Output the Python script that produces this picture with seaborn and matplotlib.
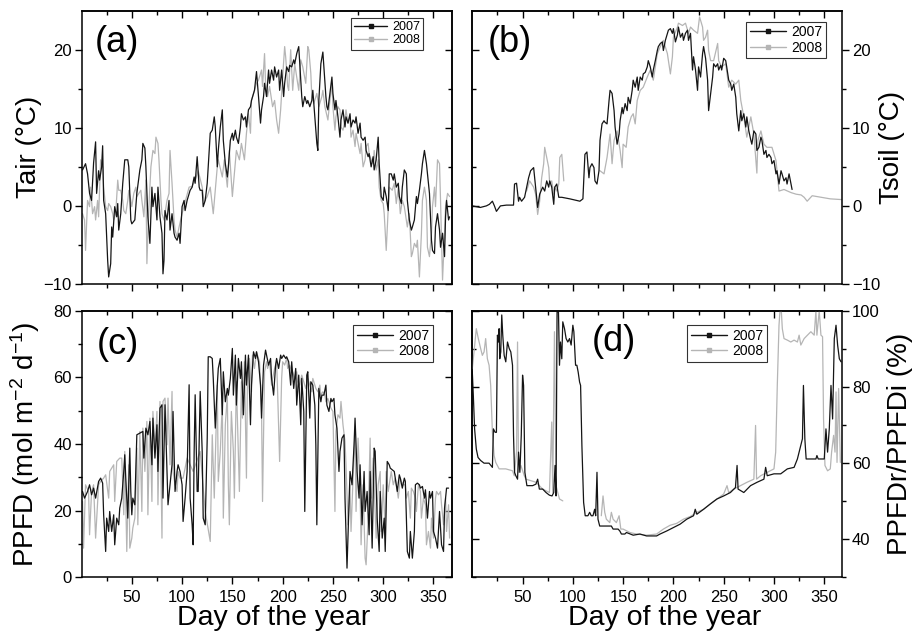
import numpy as np
import pandas as pd
import matplotlib
matplotlib.use("Agg")
import matplotlib.pyplot as plt
import seaborn as sns
from matplotlib.lines import Line2D
from matplotlib.ticker import FixedLocator

# ---------------- data (day, value) ----------------
tair_2007 = [(1,4.6),(4,5.4),(6,4.1),(8,1.6),(10,0.7),(12,5.5),(14,8.2),(15,1.6),(17,4.5),(18,3.3),(20,5.0),(21,7.7),(22,0.7),(24,-1),(26,-7),(27,-9.1),(29,-7.4),(30,-2.7),(31,-4),(33,-0.1),(35,-1.4),(36,0.3),(37,-3.1),(39,-1),(41,2.9),(43,5.9),(46,5.9),(47,5),(49,-1.8),(50,-2.3),(53,-1.8),(55,1.6),(58,4.6),(60,5.9),(61,8),(63,7.4),(64,5),(66,-1.4),(68,-4.8),(70,2.4),(71,-0.1),(73,1.6),(75,-1.8),(76,2.4),(78,-1.4),(80,-3.5),(81,-8.7),(82,-7),(83,-0.6),(85,-1.8),(87,0.7),(88,-3.1),(90,-1),(92,-3.5),(93,-4),(95,-4.4),(97,-3.5),(98,-4.8),(100,-0.1),(102,0.7),(103,-0.6),(105,0.7),(107,1.6),(108,2),(110,2.4),(112,3.7),(113,2.9),(115,6.3),(117,2.4),(118,2),(120,2),(121,-0.1),(123,0.7),(125,2.9),(126,5),(128,9.3),(130,9.7),(132,11.4),(133,10.1),(135,5),(136,7.1),(138,10.1),(140,12.3),(141,8.4),(143,5.4),(145,3.7),(146,5),(148,8.4),(150,9.3),(151,8.4),(153,9.7),(154,8.8),(156,8),(158,10.1),(159,11.8),(161,11),(163,11.4),(164,10.1),(166,12.3),(168,12.7),(169,13.5),(172,14.8),(174,17.2),(176,14),(178,10.6),(179,12.3),(181,14),(182,15.7),(184,14),(186,17.4),(187,15.7),(189,17.4),(191,16.1),(192,17.8),(194,16.5),(196,17.4),(197,14.8),(199,17.4),(201,14),(202,15.7),(204,17.8),(206,17.2),(207,18),(209,17.8),(211,18.7),(212,18.2),(214,19.5),(216,20.4),(217,18.2),(219,14),(220,12.7),(222,14),(224,13.1),(225,13.5),(227,12.7),(229,13.5),(230,14.8),(232,11.4),(234,8),(235,7.1),(236,13.5),(238,18.2),(240,19.7),(241,17.8),(243,14),(244,12.7),(245,12.3),(247,14.4),(249,16.5),(250,14.4),(252,12.3),(253,13.5),(255,11.4),(257,8.8),(258,11),(260,12.3),(262,10.1),(263,11.4),(265,10.6),(267,11.8),(268,10.1),(270,11),(272,10.6),(273,11.4),(275,9.3),(277,10.6),(278,8.8),(280,8.4),(282,8.8),(283,7.1),(285,6.3),(286,6.7),(288,5),(290,6.3),(291,4.6),(293,5.9),(295,8.8),(296,5.4),(298,1.2),(300,0.7),(301,2.4),(303,1.2),(305,-0.6),(306,4.1),(308,4.1),(310,3.3),(311,4.1),(313,2.4),(315,2.9),(316,1.2),(318,0.3),(319,2.4),(321,4.6),(323,4.1),(324,0.7),(326,-1.8),(328,-3.1),(329,-2.7),(331,-1.8),(333,1.2),(334,0.3),(336,2),(338,4.1),(339,5.4),(341,7.1),(343,5.4),(344,4.1),(346,1.6),(348,-4.4),(349,-5.7),(351,-6.1),(352,-2.7),(354,-1),(356,-3.1),(357,-5.3),(359,-3.5),(361,-6.5),(362,-1.4),(363,0.7),(365,-1.8),(366,-1.4)]

tair_2008 = [(1,-1),(3,-1.8),(4,-5.7),(6,0.7),(8,-0.1),(9,2.4),(11,-1),(13,-0.1),(14,-1.8),(16,0.7),(17,-1.4),(19,5.9),(21,5),(22,2.4),(24,-0.1),(26,-0.6),(27,0.3),(29,-0.1),(31,-1),(32,-1.8),(34,-1),(36,3.3),(37,2),(39,2),(41,0.7),(42,-0.6),(44,-1),(46,0.7),(47,2),(49,0.7),(50,-0.1),(52,1.6),(54,2.4),(55,1.2),(57,1.6),(59,2),(60,0.7),(62,-1.4),(64,3.3),(65,-7.4),(67,-0.1),(69,5),(71,7.1),(73,6.7),(74,8.8),(76,8),(77,5.9),(79,0.7),(80,-1),(82,-1.8),(84,-0.1),(85,0.7),(87,1.6),(88,7.1),(90,2.9),(92,-1.8),(93,-3.1),(95,-4),(97,-2.7),(100,-1),(103,0.5),(107,2.4),(110,2.5),(113,3.3),(116,4.5),(120,2.4),(122,0.5),(125,1.2),(128,2.4),(131,-1),(135,5),(136,5.9),(140,3.7),(142,5.9),(145,2.4),(147,7.1),(150,1.2),(152,4.1),(154,7.1),(157,5.9),(159,8),(162,5.9),(164,9.3),(166,11.8),(168,9.3),(169,13.5),(172,14.8),(174,15.7),(176,16.1),(179,17.4),(180,15.3),(182,19.5),(183,15.7),(185,14),(187,15.3),(190,12.7),(192,13.5),(194,11),(196,9.3),(198,12.3),(200,16.5),(202,20.4),(203,19.1),(205,15.3),(206,14.8),(208,20),(210,14.8),(212,18.2),(214,16.5),(216,14.8),(218,18.7),(220,17.8),(223,15.7),(225,20.4),(226,20),(228,17),(229,14),(231,13.1),(234,14.4),(236,12.7),(239,14),(240,14.8),(242,12.7),(245,11),(247,13.5),(249,15.7),(250,12.7),(252,9.7),(253,11.4),(255,12.7),(257,12.3),(258,10.1),(260,9.7),(262,11),(263,12.3),(265,10.6),(267,11.4),(268,8.8),(270,9.7),(272,7.6),(273,9.3),(275,8),(277,6.7),(278,8),(280,5),(282,5.9),(283,7.6),(285,8),(286,6.7),(288,5.9),(290,5.4),(291,7.1),(293,4.6),(295,5.9),(296,2.4),(298,0.7),(300,0.3),(301,-1),(303,-5.7),(305,-0.1),(306,2.4),(309,2),(311,2.9),(313,0.3),(315,2.4),(317,-1),(319,0.7),(321,-0.1),(324,-2.7),(326,-1),(328,-6.5),(329,-6.1),(331,-4.8),(333,-5.3),(334,-4.4),(336,-9.1),(338,-3.5),(339,0.7),(341,2.4),(343,0.7),(344,-5.3),(346,-6.5),(348,-3.5),(349,-0.1),(351,2.4),(352,-0.1),(354,5.9),(356,5.4),(357,0.7),(359,-9.5),(361,-3.5),(362,-0.1),(364,1.6),(366,1.2)]

tsoil_2007 = [(0,0),(8,-0.2),(11,-0.1),(14,0),(17,0.2),(20,0.6),(22,0),(24,-0.7),(28,0),(34,0.1),(41,0.1),(42,2.8),(44,2.9),(46,0.6),(47,1.1),(49,0.6),(52,1.1),(56,3.6),(58,4.5),(61,4.9),(63,2.4),(65,-0.2),(67,1.5),(70,2.4),(72,1.9),(74,3.2),(76,2.4),(77,3.2),(79,2.4),(81,0.2),(82,2.4),(84,2.8),(86,1.1),(89,1.1),(97,0.9),(107,0.6),(110,0.9),(112,6.6),(114,6.9),(116,3.6),(117,4.9),(119,5.4),(121,4.9),(122,3.2),(124,2.8),(126,4.5),(127,8.4),(129,10.5),(131,10.9),(132,10.7),(134,10.5),(136,13.5),(137,14.8),(139,14.4),(141,12.2),(142,10.1),(144,7.9),(146,9.2),(147,10.9),(149,12.6),(150,11.8),(152,13.1),(154,12.2),(155,13.9),(157,13.1),(159,14.8),(160,16.1),(162,15.2),(164,16.5),(165,14.8),(167,16.5),(169,16.1),(170,16.9),(172,17.1),(174,17.8),(175,18.6),(177,17.8),(179,16.5),(180,17.4),(182,18.6),(184,19.9),(185,20.4),(187,20.8),(189,21),(190,19.9),(192,21.2),(194,22.1),(195,22.5),(197,22.7),(199,22.1),(200,22.7),(202,21),(204,21.9),(205,22.9),(207,21.6),(209,22.1),(210,21.2),(212,22.1),(214,22.5),(215,21.2),(217,22.1),(219,17.4),(220,19.1),(222,17.4),(224,14.8),(225,17.8),(227,16.5),(229,19.5),(230,20.4),(232,18.9),(234,16.1),(235,12.2),(237,14.4),(239,16.5),(240,18.2),(242,17.8),(244,18.2),(245,17.4),(247,18),(248,17.4),(250,18.9),(252,18.6),(253,17.8),(255,16.1),(257,15.6),(258,14.8),(260,15.6),(262,13.9),(263,11.8),(265,9.6),(267,12.2),(268,10.9),(270,11.8),(272,10.1),(273,11.4),(275,9.6),(277,8.4),(278,7.9),(280,9.6),(282,9.2),(283,7.1),(285,7.5),(287,8.8),(288,8.4),(290,6.6),(292,7.1),(293,6.2),(295,6.6),(297,6.2),(298,5.4),(300,5.8),(302,4.1),(303,4.5),(305,2.8),(307,4.5),(308,4.1),(310,3.2),(312,3.6),(313,2.8),(315,4.1),(317,2.8),(318,2.1)]

tsoil_2008 = [(54,1.9),(57,3.2),(61,2.4),(63,1.5),(65,-1.1),(67,0.6),(69,3.6),(71,5.4),(72,7.5),(74,6.2),(76,4.9),(77,2.8),(79,3.2),(81,1.5),(82,2.4),(84,1.9),(86,2.8),(87,6.2),(89,6.6),(91,3.2),
              None,
              (127,4.5),(131,4.1),(134,6.2),(137,9.2),(139,5.4),(141,8.4),(144,9.6),(147,7.1),(149,4.9),(150,7.9),(153,7.5),(155,10.1),(158,11.4),(160,11.8),(162,10.5),(164,13.5),(167,14.8),(170,15.2),(174,16.5),(177,17.4),(180,16.1),(184,19.5),(187,20.4),(190,21.2),(194,19.5),(197,16.9),(199,19.1),(200,21.6),(204,22.9),(205,23.4),(209,23.1),(212,23.4),(215,22.1),(217,22.9),(220,22.5),(224,22.1),(226,24.2),(229,22.9),(230,21.2),(232,21.6),(234,22.5),(235,19.9),(237,18.6),(240,18.6),(244,20.8),(245,18.6),(248,17.8),(252,18.2),(255,15.2),(258,16.1),(262,15.6),(265,16.1),(267,13.5),(270,11.4),(273,8.8),(277,11.4),(280,9.2),(283,4.2),(284,8.4),(287,9.6),(290,7.9),(293,7.5),(298,7.5),(302,5.8),(305,1.9),(310,2.1),(317,1.7),(322,1.5),(327,1.4),(330,1.1),(333,0.6),(338,1.3),(347,1.1),(356,0.9),(368,0.8)]

ppfd_2007 = [(1,25.8),(3,23.8),(6,25.8),(8,27.8),(10,24.8),(12,26.8),(14,23.8),(17,28.8),(19,29.8),(21,28.3),(22,18.8),(24,7.8),(25,17.8),(27,13.8),(28,19.8),(30,13.8),(32,18.8),(33,9.8),(35,17.8),(37,15.8),(38,20.8),(40,23.8),(42,31.8),(43,36.8),(44,29.8),(46,17.8),(48,38.8),(49,25.8),(50,18.8),(51,23.8),(53,21.8),(55,42.8),(58,43.3),(61,43.8),(62,35.8),(64,44.8),(66,42.8),(68,46.8),(70,33.8),(71,47.8),(73,35.8),(75,45.8),(76,31.8),(78,50.8),(80,51.8),(81,23.8),(83,51.8),(85,31.8),(86,21.8),(88,27.8),(90,33.8),(91,49.8),(93,25.8),(95,31.8),(96,33.8),(98,31.8),(100,27.8),(101,16.8),(103,23.8),(105,31.8),(106,44.8),(107,57.8),(108,23.8),(110,15.8),(111,9.8),(112,37.8),(113,54.8),(115,25.8),(116,25.8),(118,55.8),(120,37.8),(121,17.8),(123,15.8),(125,41.8),(126,66.2),(128,66.2),(130,65.7),(131,59.7),(133,44.8),(135,57.7),(136,62.7),(138,65.7),(140,48.8),(141,61.7),(143,52.7),(145,56.7),(146,54.7),(148,59.7),(150,68.7),(151,54.7),(153,66.7),(154,51.7),(156,65.7),(158,59.7),(159,64.7),(161,48.8),(163,66.7),(164,57.7),(166,66.7),(168,45.8),(169,57.7),(171,67.7),(173,65.7),(174,67.7),(176,64.7),(178,57.7),(179,47.8),(181,63.7),(183,68.2),(184,66.7),(186,63.7),(188,65.7),(189,59.7),(191,54.7),(193,63.7),(194,65.7),(196,62.7),(198,66.7),(199,65.7),(201,66.7),(203,65.7),(204,66.2),(206,64.7),(208,57.7),(209,64.7),(211,56.7),(213,62.7),(214,51.7),(216,60.7),(218,45.8),(219,59.7),(221,49.8),(222,19.8),(224,60.7),(225,61.7),(227,47.8),(228,58.7),(230,57.7),(232,51.7),(233,39.8),(234,15.8),(236,56.7),(238,52.7),(239,54.7),(241,54.7),(243,57.7),(244,51.7),(246,49.8),(248,53.7),(249,52.7),(251,53.7),(252,48.8),(254,44.8),(256,31.8),(257,37.8),(259,41.8),(261,42.8),(262,23.8),(264,2.8),(266,22.8),(267,31.8),(269,27.8),(271,39.8),(272,47.8),(274,31.8),(276,23.8),(277,33.8),(279,15.8),(281,31.8),(282,19.8),(284,25.8),(286,12.8),(287,31.8),(289,8.8),(291,38.8),(292,37.8),(294,17.8),(296,7.8),(297,25.8),(299,11.8),(301,17.8),(302,7.8),(304,34.8),(306,33.8),(307,32.8),(309,32.3),(311,31.8),(312,29.8),(314,25.8),(316,30.8),(317,29.8),(319,26.8),(321,29.8),(322,28.8),(324,7.8),(326,5.8),(327,13.8),(329,5.8),(331,13.8),(332,27.8),(334,28.3),(336,27.8),(337,26.8),(339,27.3),(341,23.8),(342,26.3),(344,17.8),(346,25.8),(347,23.8),(349,25.8),(350,13.8),(352,11.8),(354,8.8),(356,19.8),(358,9.8),(360,7.8),(361,20.8),(363,26.8),(365,26.8)]

ppfd_2008 = [(1,22.8),(2,8.8),(4,27.8),(7,25.8),(8,12.8),(10,25.8),(12,27.8),(14,11.8),(17,27.8),(19,28.8),(22,29.8),(24,30.8),(27,23.8),(28,31.8),(32,33.8),(33,22.8),(35,34.8),(38,35.8),(40,35.8),(42,18.8),(43,37.8),(45,7.8),(47,33.8),(48,8.8),(50,11.8),(51,14.8),(53,17.8),(55,38.8),(56,15.8),(58,43.8),(60,19.8),(61,44.8),(63,31.8),(65,46.8),(66,18.8),(68,47.8),(70,22.8),(71,49.8),(73,37.8),(75,49.8),(76,21.8),(78,52.8),(80,11.8),(81,52.8),(83,53.8),(85,39.8),(86,53.8),(88,33.8),(90,55.8),(91,31.8),(93,27.8),(95,25.8),(96,31.8),(98,29.8),(101,29.8),(105,35.8),(111,31.8),(118,37.8),(123,19.8),(128,10.8),(130,42.8),(132,23.8),(135,57.7),(136,28.8),(138,37.8),(140,52.7),(141,17.8),(143,45.8),(145,54.7),(146,27.8),(147,15.8),(149,49.8),(151,37.8),(152,23.8),(154,58.7),(155,47.8),(157,25.8),(159,58.7),(160,47.8),(162,64.7),(164,29.8),(165,59.7),(167,65.7),(169,55.7),(170,66.7),(172,62.7),(174,67.7),(175,66.7),(177,64.7),(179,50.8),(180,22.8),(182,61.7),(184,64.7),(185,62.7),(187,64.7),(189,57.7),(190,59.7),(192,62.7),(194,64.7),(195,55.7),(197,34.8),(199,59.7),(200,64.7),(202,63.7),(204,65.7),(205,62.7),(207,63.7),(209,61.7),(210,61.7),(212,59.7),(214,61.7),(215,58.7),(217,57.7),(219,60.7),(220,59.7),(222,57.7),(223,56.7),(225,59.7),(227,57.7),(229,55.7),(230,59.7),(232,57.7),(233,56.7),(235,55.7),(237,57.7),(238,54.7),(240,55.7),(242,54.7),(243,52.7),(245,53.7),(247,51.7),(248,50.8),(250,49.8),(252,19.8),(253,43.8),(255,48.8),(257,47.8),(258,52.8),(260,45.8),(262,40.8),(263,33.8),(265,15.8),(267,27.8),(268,13.8),(270,29.8),(272,43.8),(273,19.8),(275,41.8),(277,25.8),(278,9.8),(280,27.8),(282,5.8),(283,3.8),(285,17.8),(287,41.8),(288,23.8),(290,35.8),(292,19.8),(293,11.8),(295,27.8),(297,31.8),(298,13.8),(300,27.8),(302,13.8),(303,31.8),(305,25.8),(307,29.8),(308,31.8),(310,27.8),(312,29.8),(313,27.8),(315,23.8),(317,29.8),(318,28.8),(320,27.8),(322,27.8),(323,23.8),(325,25.8),(327,17.8),(328,26.8),(330,25.8),(332,23.8),(333,19.8),(335,27.8),(337,25.8),(338,17.8),(340,23.8),(342,21.8),(343,9.8),(345,13.8),(347,8.8),(348,17.8),(350,11.8),(352,23.8),(353,25.8),(355,24.8),(357,25.8),(358,21.8),(360,15.8),(362,23.8),(363,13.8),(365,21.8),(366,11.8)]

ratio_2007 = [(0,84),(1,78),(2.3,69),(4,63.7),(5.7,61.5),(8.3,60.7),(11.7,60),(16.7,60),(20,58.9),(21,69),(22.7,68.1),(24,68.1),(25,93.6),(26,91.8),(26.7,95.3),(27.3,87.4),(28.3,89.2),(29.3,98.9),(30.3,93.6),(31.7,88.3),(33.3,86.6),(35,91.8),(36.7,90.1),(38.3,89.2),(40,85.7),(41,67.3),(42,57.6),(43.3,56.7),(45,55.8),(46,62.9),(47.3,57.6),(48.7,67.3),(50,83.1),(51,80.4),(52.3,57.6),(54.3,54.1),(56.7,54.1),(60,54.1),(63.3,54.5),(65,55.8),(66.7,53.2),(70,53.2),(73.3,52.3),(76.7,51.6),(79.3,51.4),(81,52.3),(82.3,59.4),(83.3,51.4),(84.3,99.7),(85.7,99.7),(86.7,85.7),(87.7,91.8),(89,87.4),(90,97.1),(91.7,95.3),(93.3,92.7),(95,91.8),(96.7,92.7),(98.3,91),(100,96.2),(101,94.5),(102.7,85.7),(104,85.7),(105.3,83.9),(106.7,81.3),(107.7,80.4),(109,64.6),(110.7,49.7),(112.3,46.2),(115,46.2),(116.7,47.1),(118.3,46.2),(120,46.2),(121.7,47.9),(122.7,46.2),(124,57.6),(125,45.3),(126.7,43.5),(133.3,43.5),(138.3,43.5),(140,42.7),(145,42.7),(146.7,42.2),(148.3,41.4),(151.7,41.4),(153.3,41.8),(160,41.1),(166.7,41.4),(173.3,40.9),(183.3,40.9),(186.7,41.4),(193.3,42.2),(200,43.1),(206.7,44),(213.3,45.3),(220,46.2),(221.7,47.9),(223.3,46.6),(230,47.9),(236.7,49.3),(243.3,50.6),(250,51.4),(256.7,52.3),(261.7,53.6),(263.3,59.4),(264.3,53.2),(270,52.3),(276.7,54.1),(283.3,55),(290,55.8),(291.7,58.9),(293.3,56.7),(300,57.2),(306.7,57.2),(313.3,58.5),(320,58.9),(323.3,61.1),(325,62.9),(326.7,64.6),(328.3,66.4),(329.3,80.4),(330.7,66.4),(332,61.1),(336.7,61.1),(341.7,61.1),(342.7,62),(344,61.1),(350,61.1),(351.7,69),(353.3,62.9),(355,69),(356.7,80.4),(358.3,71.6),(360,92.7),(361.7,96.2),(363.3,91),(365,87.4),(366.7,86.6)]

ratio_2008 = [(0,84.8),(1.7,89.2),(4,95.3),(6,92.7),(8.3,90.1),(10,88.3),(11.7,89.2),(13.3,92.7),(15,87.4),(16.7,85.7),(18.3,80.4),(20,68.1),(21.7,62),(23.3,60.2),(26.7,58.5),(33.3,58.5),(40,58),(41.7,56.7),(44,62.9),(45,91.8),(46,57.6),(48.3,59.4),(51.7,56.7),(53.3,55.8),(63.3,55),(70,53.2),(76.7,52.3),(79,70.8),(80,52.3),(81.7,94.5),(83.3,54.1),(85,52.3),(86.7,50.6),(90,50.1),
              None,
              (128.3,46.2),(130,51.4),(131.7,47.1),(133.3,45.3),(136.7,44.4),(138.3,47.1),(140,45.3),(143.3,44.4),(146,46.2),(147.7,42.7),(150,42.7),(156.7,41.8),(163.3,41.4),(173.3,41.1),(183.3,41.4),(190,42.7),(196.7,43.7),(203.3,44.2),(210,45.3),(216.7,46),(223.3,47.1),(230,47.9),(236.7,49.3),(243.3,50.6),(250,51.9),(253.3,54.1),(255,52.3),(260,53.2),(266.7,54.1),(273.3,55),(280,55.8),(281.7,69.9),(282.7,55.8),(286.7,56.7),(293.3,57.6),(300,58.5),(301.7,62.9),(303.3,80.4),(305,96.2),(306,100),(307.3,100),(308.3,95.3),(310,92.7),(313.3,92.3),(316.7,91.8),(320,92.3),(323.3,91.8),(325,93.6),(326.7,91),(330,92.7),(333.3,93.6),(336.7,94.5),(340,93.6),(341.7,100),(342.7,93.6),(345,100),(346.7,93.6),(348.3,93.2),(349.3,71.6),(350.7,59.4),(353.3,58),(356,58.5),(357.3,62.9),(359.3,67.3),(360.7,62.9),(361.7,78.7),(362.7,60.2),(364.3,79.6),(366,60.2)]

years = ["2007", "2008"]
x_major = [50, 100, 150, 200, 250, 300, 350]
x_minor = [25, 75, 125, 175, 225, 275, 325]

# ---------------- style ----------------
sns.set_style("ticks")
plt.rcParams["font.family"] = ["Liberation Sans", "DejaVu Sans"]
plt.rcParams["mathtext.fontset"] = "custom"
plt.rcParams["mathtext.rm"] = "Liberation Sans"
plt.rcParams["mathtext.it"] = "Liberation Sans:italic"
plt.rcParams["axes.linewidth"] = 1.1
plt.rcParams["axes.edgecolor"] = "black"
plt.rcParams["text.color"] = "black"
plt.rcParams["axes.labelcolor"] = "black"
plt.rcParams["xtick.color"] = "black"
plt.rcParams["ytick.color"] = "black"
plt.rcParams["xtick.labelcolor"] = "black"
plt.rcParams["ytick.labelcolor"] = "black"

C07 = "#151515"
C08 = "#b5b5b5"


def to_df(pairs, year):
    rows, seg = [], 0
    for p in pairs:
        if p is None:
            seg += 1
            continue
        rows.append((p[0], p[1], year, seg))
    return pd.DataFrame(rows, columns=["day", "value", "year", "seg"])


fig = plt.figure(figsize=(9.16, 6.35), dpi=100)
ax_a = fig.add_axes([0.089, 0.5528, 0.404, 0.4304])
ax_b = fig.add_axes([0.5156, 0.5528, 0.404, 0.4304])
ax_c = fig.add_axes([0.089, 0.0906, 0.404, 0.4200])
ax_d = fig.add_axes([0.5156, 0.0906, 0.404, 0.4200])

panels = [
    (ax_a, tair_2007, tair_2008, (-10, 25), [-10, 0, 10, 20], [-5, 5, 15], "left", False,
     "Tair (°C)", "(a)", (0.036, 0.885), (0.923, 0.973), 9),
    (ax_b, tsoil_2007, tsoil_2008, (-10, 25), [-10, 0, 10, 20], [-5, 5, 15], "right", False,
     "Tsoil (°C)", "(b)", (0.042, 0.885), (0.956, 0.959), 10),
    (ax_c, ppfd_2007, ppfd_2008, (0, 80), [0, 20, 40, 60, 80], [10, 30, 50, 70], "left", True,
     "PPFD (mol m$^{-2}$ d$^{-1}$)", "(c)", (0.042, 0.875), (0.95, 0.946), 10),
    (ax_d, ratio_2007, ratio_2008, (30, 100), [40, 60, 80, 100], [30, 50, 70, 90], "right", True,
     "PPFDr/PPFDi (%)", "(d)", (0.324, 0.886), (0.797, 0.946), 10),
]

for (ax, s07, s08, ylim, ymaj, ymin, side, xlab, ylabel, tag, tagpos, legpos, legfs) in panels:
    d08 = to_df(s08, years[1])
    d07 = to_df(s07, years[0])
    sns.lineplot(data=d08, x="day", y="value", units="seg", estimator=None, sort=False,
                 color=C08, lw=0.9, ax=ax)
    sns.lineplot(data=d07, x="day", y="value", units="seg", estimator=None, sort=False,
                 color=C07, lw=0.9, ax=ax)
    ax.set_xlim(0, 368)
    ax.set_ylim(*ylim)

    ax.xaxis.set_major_locator(FixedLocator(x_major))
    ax.xaxis.set_minor_locator(FixedLocator(x_minor))
    ax.yaxis.set_major_locator(FixedLocator(ymaj))
    ax.yaxis.set_minor_locator(FixedLocator(ymin))

    ax.tick_params(axis="x", which="both", direction="out", bottom=True, top=False,
                   labelbottom=xlab, labelsize=12, pad=4)
    ax.tick_params(axis="x", which="major", length=5, width=1.0)
    ax.tick_params(axis="x", which="minor", length=3, width=1.0)
    top = ax.secondary_xaxis("top")
    top.xaxis.set_major_locator(FixedLocator(x_major))
    top.xaxis.set_minor_locator(FixedLocator(x_minor))
    top.tick_params(axis="x", which="both", direction="in", labeltop=False)
    top.tick_params(axis="x", which="major", length=5, width=1.0)
    top.tick_params(axis="x", which="minor", length=3, width=1.0)

    if side == "left":
        ax.tick_params(axis="y", which="both", direction="out", left=True, right=False,
                       labelleft=True, labelright=False, labelsize=12, pad=2)
        other = ax.secondary_yaxis("right")
        other.tick_params(axis="y", which="both", direction="in", labelright=False)
    else:
        ax.yaxis.tick_right()
        ax.yaxis.set_label_position("right")
        ax.tick_params(axis="y", which="both", direction="out", left=False, right=True,
                       labelleft=False, labelright=True, labelsize=12, pad=2)
        other = ax.secondary_yaxis("left")
        other.tick_params(axis="y", which="both", direction="in", labelleft=False)
    other.yaxis.set_major_locator(FixedLocator(ymaj))
    other.yaxis.set_minor_locator(FixedLocator(ymin))
    for a in (ax, other):
        a.tick_params(axis="y", which="major", length=5, width=1.0)
        a.tick_params(axis="y", which="minor", length=3, width=1.0)

    ax.set_ylabel(ylabel, fontsize=20)
    if side == "left":
        ax.yaxis.set_label_coords(-0.107, 0.5)
    else:
        ax.yaxis.set_label_coords(1.10 if tag == "(b)" else 1.12, 0.5)

    if xlab:
        ax.set_xlabel("Day of the year", fontsize=20.5)
        ax.xaxis.set_label_coords(0.52, -0.105)
    else:
        ax.set_xlabel("")

    ax.text(tagpos[0], tagpos[1], tag, transform=ax.transAxes, fontsize=26,
            ha="left", va="center")

    handles = [
        Line2D([], [], color=C07, lw=1.0, marker="s", markersize=2.5, label=years[0]),
        Line2D([], [], color=C08, lw=1.0, marker="s", markersize=2.2, label=years[1]),
    ]
    leg = ax.legend(handles=handles, loc="upper right", bbox_to_anchor=legpos,
                    bbox_transform=ax.transAxes, borderaxespad=0, fontsize=legfs,
                    frameon=True, fancybox=False, handlelength=2.6, handletextpad=0.4,
                    borderpad=0.25, labelspacing=0.1)
    leg.get_frame().set_edgecolor("black")
    leg.get_frame().set_linewidth(0.8)

fig.savefig("out.png", dpi=100)
